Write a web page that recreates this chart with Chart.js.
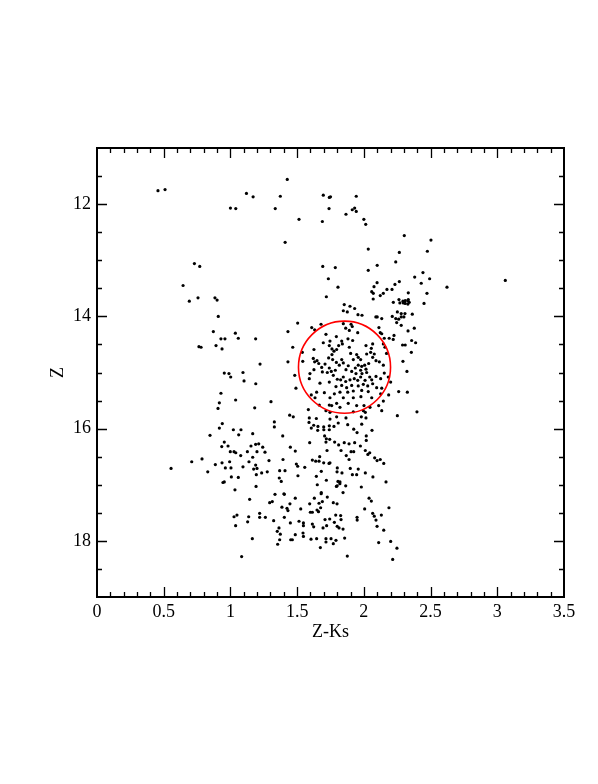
<!DOCTYPE html>
<html>
<head>
<meta charset="utf-8">
<script src="https://cdn.jsdelivr.net/npm/chart.js"></script>
<style>
  html, body { margin: 0; padding: 0; background: #fff; }
  #myChart { display: block; }
</style>
</head>
<body>
<canvas id="myChart" width="598" height="784"></canvas>
<script>
// star positions, [Z-Ks, Z]

const topStars = [
  [0.457,11.76],[0.51,11.74],[1.12,11.81],[1.17,11.87],[1.00,12.07],[1.04,12.08],[0.73,13.06],[0.77,13.11],
  [0.645,13.45],[0.757,13.67],[0.884,13.67],[1.426,11.56],[1.374,11.86],[1.336,12.08],[1.514,12.27],[1.41,12.68],
  [1.696,11.84],[1.741,11.88],[1.75,11.87],[1.943,11.86],[1.739,12.08],[1.689,12.31],[1.866,12.18],[1.913,12.10],
  [1.931,12.07],[1.943,12.13],[2.00,12.27],[2.014,12.36],[2.303,12.56],[2.033,12.80],[2.266,12.86],[2.239,13.03],
  [2.10,13.09],[2.033,13.18],[2.381,13.30],[1.692,13.11],[1.786,13.13],[1.734,13.33],[1.806,13.48],[1.719,13.65],
  [2.099,13.40],[2.076,13.47],[2.059,13.56],[2.071,13.59],[2.123,13.63],[2.146,13.59],[2.173,13.52],[2.211,13.52],
  [2.233,13.43],[2.266,13.38],[2.333,13.58],[2.503,12.64],[2.476,12.84],[2.443,13.22],[2.493,13.33],[2.43,13.41],
  [2.623,13.48],[2.473,13.59],[3.06,13.36]
];

const rightClump = [
  [2.07,13.69],[2.221,13.75],[2.263,13.70],[2.293,13.73],[2.31,13.72],[2.33,13.72],[2.34,13.75],[2.31,13.77],
  [2.33,13.78],[2.333,13.70],[2.27,13.76],[2.296,13.76],[2.451,13.77],[2.251,13.92],[2.28,13.95],[2.308,13.95],
  [2.363,13.96],[2.09,14.01],[2.10,14.01],[2.134,14.04],[2.213,14.00],[2.239,14.04],[2.261,14.05],[2.28,14.01],
  [2.30,14.01],[2.246,14.11],[2.28,14.16],[2.113,14.20],[2.123,14.29],[2.134,14.31],[2.331,14.26],[2.378,14.21],
  [2.226,14.34],[2.153,14.39],[2.19,14.39],[2.22,14.41],[2.358,14.43],[2.388,14.47],[2.066,14.49],[2.29,14.51],
  [2.31,14.51],[2.158,14.55],[2.398,15.70],[1.853,13.79],[1.896,13.82],[1.931,13.86],[2.356,14.64],[2.323,14.98],
  [2.293,14.80]
];

const circleStars = [
  [1.846,13.90],[1.876,13.92],[1.956,13.97],[1.986,13.98],[1.504,14.12],[1.609,14.20],[1.631,14.24],[1.679,14.14],
  [1.846,14.13],[1.904,14.14],[1.913,14.18],[1.864,14.21],[1.891,14.25],[1.954,14.29],[1.881,14.40],[1.916,14.43],
  [1.834,14.44],[1.839,14.49],[1.811,14.52],[1.741,14.52],[1.761,14.58],[1.796,14.59],[1.776,14.62],[1.626,14.59],
  [1.467,14.55],[1.539,14.64],[1.621,14.75],[1.649,14.79],[1.631,14.81],[1.542,14.80],[1.662,14.84],[1.709,14.85],
  [1.736,14.74],[1.761,14.68],[1.766,14.77],[1.794,14.82],[1.834,14.77],[1.846,14.83],[1.816,14.87],[1.901,14.66],
  [1.891,14.55],[1.946,14.68],[1.958,14.73],[1.921,14.77],[1.976,14.77],[2.021,14.67],[2.051,14.64],[2.078,14.67],
  [2.146,14.49],[2.17,14.66],[2.091,14.79],[2.036,14.84],[2.006,14.87],[1.984,14.89],[1.958,14.87],[1.936,14.92],
  [1.883,14.88],[1.866,14.95],[1.909,14.98],[1.976,14.96],[2.016,14.94],[2.021,15.00],[1.986,15.02],[1.941,15.02],
  [1.741,14.92],[1.756,14.98],[1.786,14.96],[1.726,15.00],[1.689,14.99],[1.684,14.91],[1.591,15.11],[1.482,15.05],
  [1.771,15.05],[1.801,15.12],[1.826,15.13],[1.846,15.08],[1.864,15.16],[1.896,15.13],[1.928,15.11],[1.954,15.14],
  [1.976,15.08],[2.009,15.14],[2.044,15.08],[2.059,15.13],[2.091,15.07],[2.126,15.11],[2.183,15.08],[2.066,15.20],
  [2.029,15.24],[1.996,15.21],[1.958,15.24],[1.909,15.23],[1.871,15.27],[1.834,15.23],[1.791,15.25],[1.741,15.17],
  [1.671,15.19],[1.704,15.36],[1.646,15.35],[1.779,15.38],[1.821,15.35],[1.879,15.35],[1.921,15.33],[1.984,15.32],
  [2.033,15.34],[2.096,15.27],[2.134,15.28],[2.261,15.34],[1.491,15.28],[1.606,15.40],[1.634,15.45],[1.746,15.45],
  [1.846,15.45],[1.921,15.45],[1.978,15.43],[2.059,15.45],[2.146,15.51],[1.666,15.58],[1.741,15.58],[1.759,15.59],
  [1.796,15.55],[1.821,15.62],[1.883,15.55],[1.946,15.59],[2.001,15.59],[2.046,15.62],[2.111,15.59],[1.584,15.66],
  [1.716,15.68],[1.746,15.71],[1.921,15.70],[1.996,15.68],[2.011,15.71],[1.981,15.79],[2.016,15.81],[2.134,15.68],
  [2.251,15.77],[1.471,15.79],[1.591,15.81],[1.644,15.82],[1.796,15.79],[1.746,15.83],[1.866,15.81],[1.596,15.02],
  [1.626,14.95],[1.716,14.32],[1.794,14.36],[1.746,14.44],[1.696,14.47],[2.016,14.52],[2.056,14.57],[2.066,14.73],
  [2.116,14.81],[2.146,14.87],[2.153,15.01],[2.201,15.17],[2.186,15.40],[2.126,15.38],[2.326,15.35],
  [1.431,14.27],[1.222,14.85],[1.431,14.81],[1.19,15.20],[1.304,15.52],[1.444,15.76],[1.329,15.88],[1.329,15.97],
  [1.392,16.13],[1.212,16.27],[1.242,16.33],[1.449,16.33],
  [1.589,15.89],[1.624,15.94],[1.606,15.99],[1.656,15.96],[1.654,16.03],[1.699,15.97],[1.70,16.02],[1.741,15.95],
  [1.741,16.02],[1.776,15.96],[1.808,15.90],[1.879,15.93],[1.924,16.01],[1.984,15.92],[1.949,16.07],[2.018,16.13],
  [2.061,16.03],[1.706,16.13],[1.719,16.18],[1.744,16.19],[1.716,16.24],[1.594,16.25],[1.781,16.24],[1.811,16.29],
  [1.853,16.25],[1.889,16.27],[1.931,16.25],[1.974,16.31],[2.018,16.21]
];

const leftStars = [
  [0.692,13.73],[0.90,13.71],[0.909,14.00],[0.872,14.27],[1.037,14.30],[0.929,14.40],[0.959,14.40],[1.059,14.39],
  [1.189,14.40],[0.764,14.54],[0.78,14.55],[0.892,14.52],[0.937,14.58],[0.954,15.01],[0.989,15.02],[1.002,15.08],
  [1.094,15.00],[1.102,15.15],[0.929,15.37],[0.917,15.54],[1.039,15.49],[0.907,15.64],[1.182,15.63],[0.939,15.91],
  [0.917,15.99],[1.022,16.02],[1.079,16.02],[0.847,16.12],[1.062,16.11],[1.167,16.09],[0.954,16.24],[0.935,16.32],
  [0.982,16.31],[1.154,16.31],[1.189,16.28],
  [0.555,16.71],[0.71,16.59],[0.787,16.54],[0.83,16.77],[0.887,16.64],[0.937,16.61],[0.962,16.70],[0.994,16.59],
  [1.004,16.70],[0.999,16.41],[1.027,16.41],[1.04,16.43],[1.077,16.48],[1.127,16.41],[1.167,16.51],[1.139,16.59],
  [1.094,16.68],[1.189,16.65],[1.174,16.72],[1.194,16.82],[1.007,16.86],[1.059,16.87],[0.944,16.96],[0.954,16.95],
  [1.034,17.09],[1.192,17.03],[1.144,17.26],[1.027,17.57],[1.049,17.54],[1.039,17.73],[1.137,17.57],[1.129,17.66],
  [1.164,17.96],[1.084,18.28]
];

const lowerStars = [
  [1.199,16.41],[1.259,16.42],[1.486,16.40],[1.724,16.39],[1.829,16.39],[1.904,16.41],[1.924,16.41],[1.868,16.48],
  [2.011,16.39],[2.044,16.43],[2.03,16.46],[2.081,16.52],[2.099,16.57],[2.123,16.55],[2.149,16.62],[1.289,16.57],
  [1.394,16.55],[1.494,16.63],[1.504,16.67],[1.614,16.56],[1.639,16.58],[1.664,16.58],[1.669,16.50],[1.699,16.61],
  [1.739,16.62],[1.746,16.61],[1.801,16.70],[1.799,16.77],[1.836,16.79],[1.889,16.55],[1.898,16.71],[1.914,16.82],
  [1.946,16.82],[1.958,16.72],[2.011,16.79],[2.068,16.86],[2.166,16.95],[1.199,16.71],[1.234,16.79],[1.276,16.77],
  [1.369,16.75],[1.409,16.75],[1.366,16.88],[1.381,16.94],[1.506,16.84],[1.557,16.69],[1.644,16.85],[1.681,16.76],
  [1.719,16.92],[1.651,17.00],[1.806,16.94],[1.821,16.95],[1.82,16.98],[1.794,17.03],[1.80,17.02],[1.864,17.02],
  [1.981,17.04],[1.844,17.14],[1.681,17.14],[1.68,17.16],[1.726,17.22],[1.771,17.32],[1.401,17.16],[1.404,17.17],
  [1.334,17.17],[1.486,17.24],[1.314,17.30],[1.294,17.32],[1.386,17.40],[1.446,17.34],[1.424,17.42],[1.431,17.46],
  [1.527,17.43],[1.594,17.34],[1.629,17.24],[1.664,17.33],[1.689,17.30],[1.649,17.45],[1.66,17.48],[1.599,17.49],
  [1.614,17.49],[1.676,17.41],[1.799,17.34],[1.826,17.55],[1.789,17.54],[1.709,17.62],[1.744,17.61],[1.779,17.67],
  [1.80,17.74],[1.814,17.77],[1.844,17.79],[1.721,17.73],[1.694,17.77],[1.614,17.70],[1.624,17.75],[1.547,17.68],
  [1.547,17.73],[1.514,17.65],[1.544,17.86],[1.547,17.92],[1.449,17.68],[1.404,17.58],[1.324,17.64],[1.262,17.58],
  [1.219,17.51],[1.219,17.58],[1.364,17.77],[1.351,17.83],[1.374,17.88],[1.369,17.98],[1.354,18.06],[1.452,17.98],
  [1.464,17.98],[1.486,17.89],[1.604,17.97],[1.646,17.96],[1.674,18.12],[1.716,17.96],[1.716,18.02],[1.754,17.96],
  [1.791,17.99],[1.771,18.05],[1.856,17.95],[1.876,18.27],[1.829,17.62],[1.949,17.58],[1.95,17.63],[2.006,17.43],
  [2.039,17.24],[2.056,17.29],[2.066,17.51],[2.078,17.56],[2.091,17.63],[2.099,17.74],[2.131,17.54],[2.149,17.81],
  [2.111,18.03],[2.188,17.41],[2.201,18.01],[2.248,18.13],[2.216,18.33]
];

// axis ticks
const xTickValues = [0, 0.5, 1, 1.5, 2, 2.5, 3, 3.5];
const yTickValues = [12, 14, 16, 18];

// red circle: centre in data units, radius in Z-Ks units
const circleCenter = [1.855, 14.905];
const circleRadius = 0.345;

const FONT = "'Liberation Serif', 'DejaVu Serif', serif";

const groups = [topStars, rightClump, circleStars, leftStars, lowerStars];
const datasets = groups.map(function(g) {
  return {
    data: g.map(function(p) { return { x: p[0], y: p[1] }; }),
    pointRadius: 1.6,
    pointHoverRadius: 1.6,
    pointBackgroundColor: '#000',
    pointBorderWidth: 0,
    showLine: false
  };
});

// frame, inward ticks on all four sides, and the circle
const framePlugin = {
  id: 'frame',
  afterDatasetsDraw(chart) {
    const ctx = chart.ctx;
    const a = chart.chartArea;
    const xs = chart.scales.x, ys = chart.scales.y;
    ctx.save();

    // circle
    const cx = xs.getPixelForValue(circleCenter[0]);
    const cy = ys.getPixelForValue(circleCenter[1]);
    const r = xs.getPixelForValue(circleCenter[0] + circleRadius) - cx;
    ctx.strokeStyle = '#ff0000';
    ctx.lineWidth = 1.6;
    ctx.beginPath();
    ctx.arc(cx, cy, r, 0, Math.PI * 2);
    ctx.stroke();

    ctx.strokeStyle = '#000';
    ctx.lineWidth = 1.3;
    ctx.beginPath();
    // x ticks (minor every 0.1)
    for (let i = 1; i < 35; i++) {
      const v = i / 10;
      const px = Math.round(xs.getPixelForValue(v)) + 0.5;
      const len = (i % 5 === 0) ? 10 : 5;
      ctx.moveTo(px, a.bottom); ctx.lineTo(px, a.bottom - len);
      ctx.moveTo(px, a.top); ctx.lineTo(px, a.top + len);
    }
    // y ticks (minor every 0.5)
    for (let i = 1; i < 16; i++) {
      const v = 11 + i / 2;
      const py = Math.round(ys.getPixelForValue(v)) + 0.5;
      const len = (i % 4 === 2) ? 10 : 5;
      ctx.moveTo(a.left, py); ctx.lineTo(a.left + len, py);
      ctx.moveTo(a.right, py); ctx.lineTo(a.right - len, py);
    }
    ctx.stroke();

    ctx.lineWidth = 2;
    ctx.strokeRect(a.left, a.top, a.right - a.left, a.bottom - a.top);
    ctx.restore();
  }
};

const config = {
  type: 'scatter',
  data: { datasets: datasets },
  options: {
    responsive: false,
    animation: false,
    events: [],
    layout: { padding: { left: 0, top: 148, right: 34, bottom: 0 } },
    plugins: { legend: { display: false }, tooltip: { enabled: false } },
    scales: {
      x: {
        type: 'linear',
        min: 0,
        max: 3.5,
        grid: { display: false, drawTicks: false },
        border: { display: false },
        afterBuildTicks: function(scale) {
          scale.ticks = xTickValues.map(function(v) { return { value: v }; });
        },
        afterFit: function(scale) { scale.height = 187; },
        ticks: {
          color: '#000',
          padding: 4,
          maxRotation: 0,
          autoSkip: false,
          font: { family: FONT, size: 18 },
          callback: function(v) { return String(v); }
        },
        title: {
          display: true,
          text: 'Z-Ks',
          color: '#000',
          font: { family: FONT, size: 18 },
          padding: { top: 0, bottom: 141 }
        }
      },
      y: {
        type: 'linear',
        min: 11,
        max: 19,
        reverse: true,
        grid: { display: false, drawTicks: false },
        border: { display: false },
        afterBuildTicks: function(scale) {
          scale.ticks = yTickValues.map(function(v) { return { value: v }; });
        },
        afterFit: function(scale) { scale.width = 97; },
        ticks: {
          color: '#000',
          padding: 6,
          autoSkip: false,
          font: { family: FONT, size: 18 },
          callback: function(v) { return String(v); }
        },
        title: {
          display: true,
          text: 'Z',
          color: '#000',
          font: { family: FONT, size: 18 },
          padding: { top: 47, bottom: 0 }
        }
      }
    }
  },
  plugins: [framePlugin]
};

const myChart = new Chart(document.getElementById('myChart'), config);
</script>
</body>
</html>
